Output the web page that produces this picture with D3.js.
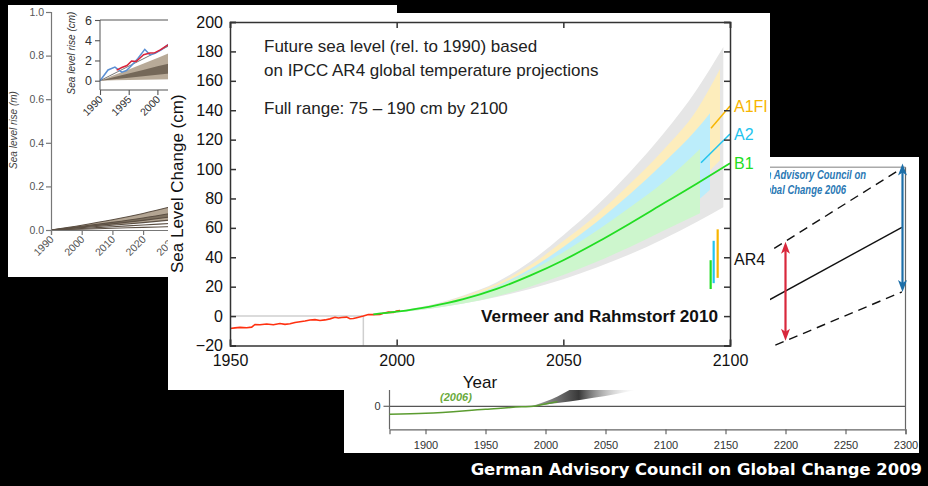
<!DOCTYPE html>
<html>
<head>
<meta charset="utf-8">
<script src="https://cdn.jsdelivr.net/npm/d3@7"></script>
<style>
  body { margin: 0; background: #000; }
  svg { display: block; }
</style>
</head>
<body>
<svg id="chart" width="928" height="486"></svg>
<script>
// ---------- data ----------
// left panel (IPCC style projection, metres)
const leftYears = [1990, 2000, 2010, 2020, 2030];
const leftTop   = [0, 0.022, 0.047, 0.076, 0.11];
const leftMidHi = [0, 0.017, 0.035, 0.055, 0.078];
const leftMidLo = [0, 0.014, 0.028, 0.044, 0.062];
const leftLow   = [0, 0.011, 0.022, 0.034, 0.047];
const leftLine5 = [0, 0.007, 0.015, 0.023, 0.031];
const leftLine6 = [0, 0.004, 0.008, 0.012, 0.016];
const leftTicks = [0, 0.2, 0.4, 0.6, 0.8, 1.0];

// inset (cm)
const insetFanYears = [1990, 1995, 2000, 2005];
const insetTop   = [0, 1.1, 2.25, 3.4];
const insetDarkHi = [0, 0.7, 1.42, 2.1];
const insetDarkLo = [0, 0.29, 0.58, 0.88];
const insetBottom = [0, 0.06, 0.12, 0.18];
const insetBlueYears = [1990, 1991.4, 1992.6, 1993.8, 1994.6, 1995.5, 1996.6, 1997.8, 1998.7, 1999.6, 2000.8, 2001.9, 2003];
const insetBlue      = [0, 1.06, 1.35, 0.85, 1.0, 1.5, 2.2, 3.1, 2.56, 2.7, 3.1, 3.6, 3.9];
const insetRedYears = [1992.9, 1993.8, 1994.7, 1995.5, 1996.3, 1997.6, 1998.7, 1999.5, 2000.5, 2001.7, 2003];
const insetRed      = [1.05, 1.3, 1.5, 1.95, 1.9, 2.56, 2.73, 2.75, 3.04, 3.5, 3.8];
const insetTicks = [0, 2, 4, 6];

// main panel: Vermeer & Rahmstorf 2010 (cm rel. to 1990)
const obsYears = [1950, 1951.5, 1953, 1955, 1956.5, 1957.5, 1959, 1961, 1963, 1965, 1966.5, 1968, 1969.5, 1971, 1972.5, 1974, 1975.5, 1977, 1978.5, 1980, 1981.5, 1982.5, 1983.5, 1985, 1986, 1987, 1988, 1990, 1991.5, 1993, 1995, 1996, 1997.5, 1999, 2000, 2001];
const obsLevel = [-8.4, -8, -7.7, -7.9, -7.5, -5.7, -5.9, -5.4, -5.9, -5, -5.6, -5.2, -4.4, -3.8, -3.3, -2.7, -2.4, -3, -2.6, -1.9, -0.8, -1.3, -1, -0.7, -1.8, -1.6, -1.1, 0, 1.1, 1, 1.1, 1.9, 2.7, 2.5, 3.4, 3.8];

const b1Years = [1993, 2000, 2010, 2020, 2030, 2040, 2050, 2060, 2070, 2080, 2090, 2100];
const b1Level = [1.2, 3, 6.5, 11.5, 18.5, 27.5, 38, 50, 63, 76.5, 90, 104];

const fullYears = [1995, 2000, 2010, 2020, 2030, 2040, 2050, 2060, 2070, 2080, 2090, 2098];
const fullHi = [2, 3.5, 7.5, 14, 23, 37, 55, 75, 98, 124, 154, 183];
const fullLo = [1.5, 2.5, 5, 8.5, 13, 18.5, 25, 33, 42, 52.5, 64, 74];

const a1fiYears = [1995, 2000, 2010, 2020, 2030, 2040, 2050, 2060, 2070, 2080, 2090, 2097];
const a1fiHi = [2, 3.3, 7, 13.5, 22, 34.5, 51, 69, 90, 113, 140, 168];
const a1fiLo = [1.5, 2.7, 5.5, 9.5, 15, 22, 31, 42, 55, 71, 90, 106];

const a2Years = [1995, 2000, 2010, 2020, 2030, 2040, 2050, 2060, 2070, 2080, 2090, 2094];
const a2Hi = [2, 3.2, 6.8, 12.5, 20.5, 32, 47, 64, 83, 104, 127, 138];
const a2Lo = [1.5, 2.7, 5.5, 9.5, 15, 22, 30.5, 40, 51, 63, 78, 86];

const b1BandYears = [1995, 2000, 2010, 2020, 2030, 2040, 2050, 2060, 2070, 2080, 2091];
const b1Hi = [2, 3.1, 6.8, 12.5, 20, 30.5, 43.5, 58, 74, 91, 113.6];
const b1Lo = [1.5, 2.6, 5, 8.5, 13.5, 20, 28, 37, 47, 58, 70];

const scenNames = ["A1FI", "A2", "B1"];
const leadFromYear = [2094.3, 2091.3];
const leadFromLevel = [127.8, 104.3];
const leadToLevel = [142.8, 123.8];
const labelLevel = [142.5, 123.5, 103.5];

const ar4Years = [2094.2, 2095.1, 2096.3];   // B1, A2, A1FI
const ar4Lo = [18.4, 22.4, 26];
const ar4Hi = [38, 51.2, 59];
const mainYTicks = d3.range(-20, 201, 20);
const mainXTicks = [1950, 2000, 2050, 2100];

// right panel: WBGU (metres rel. to 1990)
const wbguYears = [1870, 1900, 1950, 1980, 1990, 2000, 2010];
const wbguLevel = [-0.17, -0.15, -0.064, -0.012, 0, 0.05, 0.1];
const fanYears = [1988, 2000, 2020, 2040, 2060, 2080];
const fanLo = [0, 0.04, 0.1, 0.18, 0.27, 0.38];
const fanHi = [0, 0.1, 0.35, 0.7, 1.1, 1.6];
const rangeYears = [2180, 2297];
const rangeUpper = [3.2, 5.08];
const rangeMid = [2.18, 3.82];
const rangeLower = [1.18, 2.44];
const arrowYears = [2200, 2297.5];
const arrowLo = [1.40, 2.44];
const arrowHi = [3.51, 5.18];
const wbguXTicks = [1900, 1950, 2000, 2050, 2100, 2150, 2200, 2250, 2300];

// ---------- drawing ----------
const svg = d3.select("#chart");
const defs = svg.append("defs");
const font = "Liberation Sans, Arial, sans-serif";
const lineGen = (x, y) => d3.line().x(d => x(d[0])).y(d => y(d[1])).curve(d3.curveMonotoneX);
const areaGen = (x, y) => d3.area().x(d => x(d[0])).y0(d => y(d[1])).y1(d => y(d[2])).curve(d3.curveMonotoneX);
const zip2 = (a, b) => a.map((v, i) => [v, b[i]]);
const zip3 = (a, b, c) => a.map((v, i) => [v, b[i], c[i]]);

function panel(id, x, y, w, h) {
  defs.append("clipPath").attr("id", id).append("rect")
    .attr("x", x).attr("y", y).attr("width", w).attr("height", h);
  const g = svg.append("g").attr("clip-path", `url(#${id})`);
  g.append("rect").attr("x", x).attr("y", y).attr("width", w).attr("height", h).attr("fill", "#fff");
  return g;
}

// ===== left panel =====
const lp = panel("clipL", 8, 5, 389, 272);
const lx = d3.scaleLinear().domain([1990, 2030]).range([51, 173.8]);
const ly = d3.scaleLinear().domain([0, 1]).range([230, 12]);

lp.append("path").datum(zip3(leftYears, leftLow, leftTop))
  .attr("fill", "#b3a593").attr("d", areaGen(lx, ly));
lp.append("path").datum(zip3(leftYears, leftMidLo, leftMidHi))
  .attr("fill", "#7d705f").attr("d", areaGen(lx, ly));
[leftTop, leftMidHi, leftMidLo, leftLow, leftLine5, leftLine6].forEach(arr => {
  lp.append("path").datum(zip2(leftYears, arr))
    .attr("fill", "none").attr("stroke", "#5b4f43").attr("stroke-width", 1.1)
    .attr("d", lineGen(lx, ly));
});

const lyAxis = lp.append("g").attr("transform", "translate(51,0)")
  .call(d3.axisLeft(ly).tickValues(leftTicks).tickFormat(d3.format(".1f")).tickSize(5).tickPadding(2));
const lxAxis = lp.append("g").attr("transform", "translate(0,230)")
  .call(d3.axisBottom(lx).tickValues(leftYears).tickFormat(d3.format("d")).tickSize(5));
lxAxis.selectAll("text").attr("text-anchor", "end").attr("dy", null).attr("y", 0)
  .attr("transform", "translate(3,10) rotate(-45)");
[lyAxis, lxAxis].forEach(a => {
  a.selectAll("path,line").attr("stroke", "#777").attr("stroke-width", 1.2);
  a.selectAll("text").attr("fill", "#555").attr("font-size", 10.5).attr("font-family", font);
});
lp.append("text").attr("transform", "translate(17,130) rotate(-90)")
  .attr("text-anchor", "middle").attr("font-size", 10).attr("font-style", "italic")
  .attr("font-family", font).attr("fill", "#444")
  .text("Sea level rise (m)");

// inset
const ix = d3.scaleLinear().domain([1990, 2005]).range([100, 186.1]);
const iy = d3.scaleLinear().domain([0, 6]).range([80.7, 20]);
lp.append("path").datum(zip3(insetFanYears, insetBottom, insetTop))
  .attr("fill", "#b8aa98").attr("d", areaGen(ix, iy));
lp.append("path").datum(zip3(insetFanYears, insetDarkLo, insetDarkHi))
  .attr("fill", "#756859").attr("d", areaGen(ix, iy));
lp.append("path").datum([[1990, 0], [2005, 4.3]])
  .attr("fill", "none").attr("stroke", "#555").attr("stroke-width", 0.8).attr("d", lineGen(ix, iy));
lp.append("path").datum(zip2(insetBlueYears, insetBlue))
  .attr("fill", "none").attr("stroke", "#5b8fd3").attr("stroke-width", 1.5)
  .attr("d", d3.line().x(d => ix(d[0])).y(d => iy(d[1])));
lp.append("path").datum(zip2(insetRedYears, insetRed))
  .attr("fill", "none").attr("stroke", "#d9233a").attr("stroke-width", 1.5)
  .attr("d", d3.line().x(d => ix(d[0])).y(d => iy(d[1])));
lp.append("line").attr("x1", 100).attr("x2", 397).attr("y1", iy(6)).attr("y2", iy(6)).attr("stroke", "#555");
const iyAxis = lp.append("g").attr("transform", "translate(100,0)")
  .call(d3.axisLeft(iy).tickValues(insetTicks).tickFormat(d3.format("d")).tickSize(5).tickPadding(3));
iyAxis.select(".domain").remove();
lp.append("line").attr("x1", 100).attr("x2", 100).attr("y1", iy(6)).attr("y2", 90).attr("stroke", "#555");
const ixAxis = lp.append("g").attr("transform", "translate(0,90)")
  .call(d3.axisBottom(ix).tickValues([1990, 1995, 2000, 2005]).tickFormat(d3.format("d")).tickSize(5));
ixAxis.select(".domain").attr("d", "M100,0H397");
ixAxis.selectAll("text").attr("text-anchor", "end").attr("dy", null).attr("y", 0)
  .attr("transform", "translate(3,10) rotate(-45)");
[iyAxis, ixAxis].forEach(a => {
  a.selectAll("path,line").attr("stroke", "#555").attr("stroke-width", 1.1);
  a.selectAll("text").attr("fill", "#333").attr("font-size", 10.5).attr("font-family", font);
});
iyAxis.selectAll("text").attr("font-size", 12.5);
lp.append("text").attr("transform", "translate(75,53) rotate(-90)")
  .attr("text-anchor", "middle").attr("font-size", 10).attr("font-style", "italic")
  .attr("font-family", font).attr("fill", "#333")
  .text("Sea level rise (cm)");

// ===== right panel =====
const rp = panel("clipR", 344, 157, 575, 296);
const rx = d3.scaleLinear().domain([1870, 2300]).range([389.5, 905.5]);
const ry = d3.scaleLinear().domain([0, 5.1]).range([406.3, 167.3]);

const grad = defs.append("linearGradient").attr("id", "fanGrad")
  .attr("gradientUnits", "userSpaceOnUse")
  .attr("x1", rx(1985)).attr("x2", rx(2080)).attr("y1", 0).attr("y2", 0);
grad.append("stop").attr("offset", 0).attr("stop-color", "#777").attr("stop-opacity", 0.6);
grad.append("stop").attr("offset", 0.45).attr("stop-color", "#222").attr("stop-opacity", 0.9);
grad.append("stop").attr("offset", 1).attr("stop-color", "#fff").attr("stop-opacity", 0);
rp.append("path").datum(zip3(fanYears, fanLo, fanHi))
  .attr("fill", "url(#fanGrad)").attr("d", areaGen(rx, ry));

rp.append("line").attr("x1", rx(1870)).attr("x2", rx(2300)).attr("y1", ry(0)).attr("y2", ry(0))
  .attr("stroke", "#555").attr("stroke-width", 1.2);
rp.append("line").attr("x1", 700).attr("x2", rx(2300)).attr("y1", ry(5.1)).attr("y2", ry(5.1))
  .attr("stroke", "#aaa").attr("stroke-width", 1.5);
rp.append("line").attr("x1", rx(2300)).attr("x2", rx(2300)).attr("y1", ry(5.1)).attr("y2", 429.3)
  .attr("stroke", "#666").attr("stroke-width", 1.2);
rp.append("line").attr("x1", rx(1870)).attr("x2", rx(1870)).attr("y1", 157).attr("y2", 429.3)
  .attr("stroke", "#666").attr("stroke-width", 1.2);
rp.append("line").attr("x1", rx(1870) - 6).attr("x2", rx(1870)).attr("y1", ry(0)).attr("y2", ry(0))
  .attr("stroke", "#666").attr("stroke-width", 1.2);
rp.append("text").attr("x", rx(1870) - 9).attr("y", ry(0)).attr("dy", "0.35em")
  .attr("text-anchor", "end").attr("font-size", 11).attr("fill", "#333")
  .attr("font-family", font).text("0");

const rxAxis = rp.append("g").attr("transform", "translate(0,429.3)")
  .call(d3.axisBottom(rx).tickValues(wbguXTicks).tickFormat(d3.format("d")).tickSize(5).tickPadding(7));
rxAxis.selectAll("path,line").attr("stroke", "#666").attr("stroke-width", 1.2);
rxAxis.selectAll("text").attr("fill", "#333").attr("font-size", 11).attr("font-family", font);

rp.append("path").datum(zip2(wbguYears, wbguLevel))
  .attr("fill", "none").attr("stroke", "#5b9c30").attr("stroke-width", 1.5).attr("d", lineGen(rx, ry));
rp.append("text").attr("x", 456).attr("y", 401).attr("text-anchor", "middle")
  .attr("font-size", 11).attr("font-style", "italic").attr("font-weight", "bold")
  .attr("font-family", font).attr("fill", "#6aaa3c").text("(2006)");

// range lines
[[rangeUpper, "9,6"], [rangeMid, null], [rangeLower, "9,6"]].forEach(([arr, dash]) => {
  rp.append("path").datum(zip2(rangeYears, arr))
    .attr("fill", "none").attr("stroke", "#111").attr("stroke-width", 1.4)
    .attr("stroke-dasharray", dash).attr("d", d3.line().x(d => rx(d[0])).y(d => ry(d[1])));
});

// double arrows
const arrowColors = ["#d8283c", "#1d6fa9"];
arrowYears.forEach((yr, i) => {
  const c = arrowColors[i];
  const x = rx(yr), y1 = ry(arrowHi[i]), y2 = ry(arrowLo[i]);
  rp.append("line").attr("x1", x).attr("x2", x).attr("y1", y1 + 8).attr("y2", y2 - 8)
    .attr("stroke", c).attr("stroke-width", 2.2);
  rp.append("path").attr("fill", c)
    .attr("d", `M${x},${y1} L${x - 4.5},${y1 + 12} L${x},${y1 + 9} L${x + 4.5},${y1 + 12} Z`);
  rp.append("path").attr("fill", c)
    .attr("d", `M${x},${y2} L${x - 4.5},${y2 - 12} L${x},${y2 - 9} L${x + 4.5},${y2 - 12} Z`);
});

[["German Advisory Council on", 866, 179.3], ["Global Change 2006", 846, 194.3]].forEach(([t, x, y]) => {
  rp.append("text").attr("transform", `translate(${x},${y}) scale(0.76,1)`)
    .attr("text-anchor", "end").attr("font-size", 12.5).attr("font-weight", "bold").attr("font-style", "italic")
    .attr("font-family", font).attr("fill", "#2a78b4").text(t);
});

// ===== main panel =====
const mp = panel("clipM", 168, 13, 602, 377);
const mx = d3.scaleLinear().domain([1950, 2100]).range([230, 730]);
const my = d3.scaleLinear().domain([-20, 200]).range([345.5, 22]);

[[fullYears, fullLo, fullHi, "#e6e6e6"],
 [a1fiYears, a1fiLo, a1fiHi, "#fdedbc"],
 [a2Years, a2Lo, a2Hi, "#bcedfb"],
 [b1BandYears, b1Lo, b1Hi, "#cdf6cd"]].forEach(([yrs, lo, hi, c]) => {
  mp.append("path").datum(zip3(yrs, lo, hi)).attr("fill", c).attr("d", areaGen(mx, my));
});

// reference lines at 1990
mp.append("line").attr("x1", mx(1950)).attr("x2", mx(1990)).attr("y1", my(0)).attr("y2", my(0))
  .attr("stroke", "#cfcfcf").attr("stroke-width", 1.5);
mp.append("line").attr("x1", mx(1990)).attr("x2", mx(1990)).attr("y1", my(0)).attr("y2", my(-20))
  .attr("stroke", "#cfcfcf").attr("stroke-width", 1.5);

// AR4 bars
const ar4Colors = ["#22dd22", "#22c4ee", "#f7b500"];
ar4Years.forEach((yr, i) => {
  mp.append("line").attr("x1", mx(yr)).attr("x2", mx(yr)).attr("y1", my(ar4Lo[i])).attr("y2", my(ar4Hi[i]))
    .attr("stroke", ar4Colors[i]).attr("stroke-width", 2.2);
});

// leaders
const scenColors = ["#f7b500", "#22c4ee", "#22dd22"];
leadFromYear.forEach((yr, i) => {
  mp.append("line").attr("x1", mx(yr)).attr("y1", my(leadFromLevel[i]))
    .attr("x2", mx(2100)).attr("y2", my(leadToLevel[i]))
    .attr("stroke", scenColors[i]).attr("stroke-width", 1.5);
});

// observed and B1
mp.append("path").datum(zip2(obsYears, obsLevel))
  .attr("fill", "none").attr("stroke", "#ff3010").attr("stroke-width", 1.6)
  .attr("d", d3.line().x(d => mx(d[0])).y(d => my(d[1])));
mp.append("path").datum(zip2(b1Years, b1Level))
  .attr("fill", "none").attr("stroke", "#22dd22").attr("stroke-width", 1.8).attr("d", lineGen(mx, my));

// axes box
const axL = mp.append("g").attr("transform", `translate(${mx(1950)},0)`)
  .call(d3.axisLeft(my).tickValues(mainYTicks).tickSize(-6).tickPadding(7));
const axB = mp.append("g").attr("transform", `translate(0,${my(-20)})`)
  .call(d3.axisBottom(mx).tickValues(mainXTicks).tickFormat(d3.format("d")).tickSize(-6).tickPadding(9));
const axT = mp.append("g").attr("transform", `translate(0,${my(200)})`)
  .call(d3.axisTop(mx).tickValues(mainXTicks).tickFormat("").tickSize(-6));
const axR = mp.append("g").attr("transform", `translate(${mx(2100)},0)`)
  .call(d3.axisRight(my).tickValues(mainYTicks).tickFormat("").tickSize(-6));
[axL, axB, axT, axR].forEach(a => {
  a.selectAll("path,line").attr("stroke", "#333").attr("stroke-width", 1.5);
  a.selectAll("text").attr("fill", "#111").attr("font-size", 16).attr("font-family", font);
});

mp.append("text").attr("transform", `translate(177,${(my(200) + my(-20)) / 2}) rotate(-90)`)
  .attr("text-anchor", "middle").attr("dy", "0.35em").attr("font-size", 17).attr("font-family", font)
  .attr("fill", "#111").text("Sea Level Change (cm)");
mp.append("text").attr("x", (mx(1950) + mx(2100)) / 2).attr("y", 388)
  .attr("text-anchor", "middle").attr("font-size", 17).attr("font-family", font)
  .attr("fill", "#111").text("Year");

// scenario labels
scenNames.forEach((n, i) => {
  mp.append("text").attr("x", mx(2100) + 4).attr("y", my(labelLevel[i])).attr("dy", "0.35em")
    .attr("font-size", 16).attr("font-family", font).attr("fill", scenColors[i]).text(n);
});
mp.append("text").attr("x", mx(2100) + 4).attr("y", my(38.5)).attr("dy", "0.35em")
  .attr("font-size", 16).attr("font-family", font).attr("fill", "#111").text("AR4");

// annotations
[["Future sea level (rel. to 1990) based", 52], ["on IPCC AR4 global temperature projections", 76],
 ["Full range: 75 \u2013 190 cm by 2100", 114]].forEach(([t, y]) => {
  mp.append("text").attr("x", 264).attr("y", y).attr("font-size", 17).attr("font-family", font)
    .attr("fill", "#222").text(t);
});
mp.append("text").attr("x", 718).attr("y", 322).attr("text-anchor", "end")
  .attr("font-size", 17.2).attr("font-weight", "bold").attr("font-family", font)
  .attr("fill", "#111").text("Vermeer and Rahmstorf 2010");

// caption
svg.append("text").attr("x", 922).attr("y", 475).attr("text-anchor", "end")
  .attr("font-size", 16.4).attr("font-weight", "bold")
  .attr("font-family", "DejaVu Sans, sans-serif")
  .attr("fill", "#fff").text("German Advisory Council on Global Change 2009");
</script>
</body>
</html>
